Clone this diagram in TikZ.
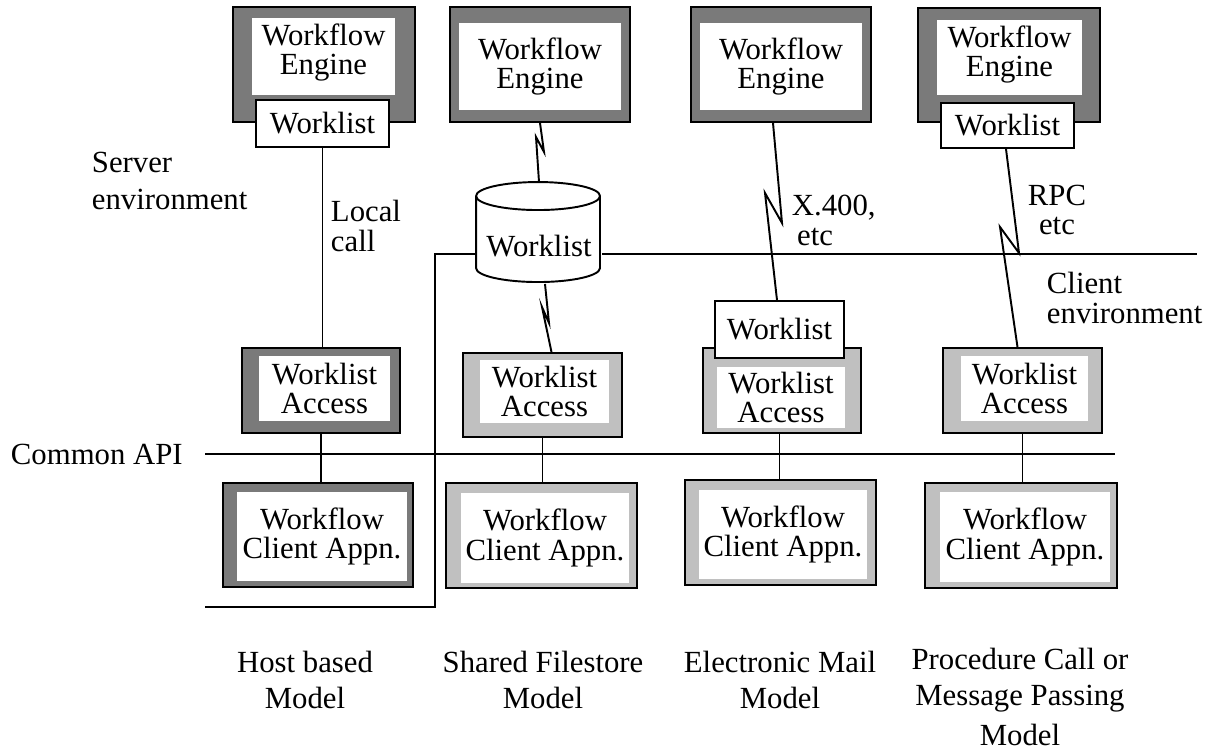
\documentclass[tikz,border=0pt]{standalone}
\usepackage{fontspec}
\setmainfont{Liberation Serif}
\usetikzlibrary{fit,calc}
\definecolor{framedk}{RGB}{122,122,122}
\definecolor{framelt}{RGB}{192,192,192}

\begin{document}
\begin{tikzpicture}[x=0.02cm, y=-0.02cm, line width=1.1pt,
    every node/.style={font=\fontsize{17.5}{17}\selectfont, inner sep=0pt, align=center},
    dkframe/.style={draw, fill=framedk},
    ltframe/.style={draw, fill=framelt},
    pane/.style={fill=white},
    wlbox/.style={draw, fill=white},
    lbl/.style={align=left, anchor=west},
    model/.style={font=\fontsize{17.5}{20.5}\selectfont}]
    \useasboundingbox (0,0) rectangle (1211,753);

    % environment boundaries
    \coordinate (api0) at (205,454);
    \coordinate (api1) at (1115,454);
    \draw (api0) -- (api1);
    \node[lbl] (capi) at (10,454) {Common API};

    % ---- Host based model
    \node[dkframe, fit={(233,7) (415,122)}] (eng1) {};
    \node[pane, fit={(252,18) (395,95)}] (eng1t) {};
    \node[yshift=0.08cm] at (eng1t) {Workflow\\Engine};
    \node[wlbox, fit={(256,100) (389,147)}] (wl1) {};
    \node at (wl1) {Worklist};
    \node[dkframe, fit={(242,348) (400,433)}] (wla1) {};
    \node[pane, fit={(259,356) (390,421)}] (wla1t) {};
    \node at (wla1t) {Worklist\\Access};
    \node[dkframe, fit={(223,483) (413,587)}] (cli1) {};
    \node[pane, fit={(237,492) (407,581)}] (cli1t) {};
    \node at (cli1t) {Workflow\\Client Appn.};
    \draw (wl1.south) -- (wl1.south |- wla1.north);
    \draw (wla1.south) -- (wla1.south |- cli1.north);
    \node[lbl] (srv) at (91,181) {Server\\[4pt]environment};
    \node[lbl] (loc) at (330,226) {Local\\call};

    % ---- Shared filestore model
    \node[dkframe, fit={(450,7) (630,122)}] (eng2) {};
    \node[pane, fit={(459,23) (621,110)}] (eng2t) {};
    \node at (eng2t) {Workflow\\Engine};
    \node[fit={(477,183) (601,283)}] (cyl) {};
    \draw[fill=white] (cyl.north west) ++(0,14) -- ++(0,72)
        arc[start angle=180, end angle=360, x radius=1.24cm, y radius=0.28cm]
        -- ++(0,-72) arc[start angle=0, end angle=180, x radius=1.24cm, y radius=0.28cm];
    \draw (cyl.north west) ++(0,14) arc[start angle=180, end angle=360, x radius=1.24cm, y radius=0.28cm];
    \node[yshift=-0.26cm] at (cyl) {Worklist};
    \node[ltframe, fit={(463,353) (622,437)}] (wla2) {};
    \node[pane, fit={(480,360) (609,423)}] (wla2t) {};
    \node at (wla2t) {Worklist\\Access};
    \node[ltframe, fit={(446,483) (637,588)}] (cli2) {};
    \node[pane, fit={(461,493) (629,583)}] (cli2t) {};
    \node at (cli2t) {Workflow\\Client Appn.};
    \draw (eng2.south) -- (544,152) -- (536,137) -- (cyl.north);
    \draw ([xshift=0.12cm]cyl.south) -- (549,323) -- (542,307) -- ([xshift=0.18cm]wla2.north);
    \draw (wla2.south) -- (wla2.south |- cli2.north);

    % ---- Electronic mail model
    \node[dkframe, fit={(691,7) (871,122)}] (eng3) {};
    \node[pane, fit={(700,23) (862,110)}] (eng3t) {};
    \node at (eng3t) {Workflow\\Engine};
    \node[ltframe, fit={(703,348) (861,433)}] (wla3) {};
    \node[pane, fit={(717,367) (845,428)}] (wla3t) {};
    \node at (wla3t) {Worklist\\Access};
    \node[wlbox, fit={(715,301) (844,358)}] (wl3) {};
    \node at (wl3) {Worklist};
    \node[ltframe, fit={(685,480) (876,585)}] (cli3) {};
    \node[pane, fit={(699,490) (867,579)}] (cli3t) {};
    \node at (cli3t) {Workflow\\Client Appn.};
    \draw ([xshift=-0.16cm]eng3.south) -- (782,223) -- (765,193) -- ([xshift=-0.05cm]wl3.north);
    \draw ([xshift=-0.05cm]wla3.south) -- ([xshift=-0.05cm]wla3.south |- cli3.north);
    \node[lbl] (x400) at (791,220) {X.400,\\\hspace{3pt}etc};

    % ---- Procedure call model
    \node[dkframe, fit={(918,8) (1100,122)}] (eng4) {};
    \node[pane, fit={(937,20) (1082,95)}] (eng4t) {};
    \node[yshift=0.06cm] at (eng4t) {Workflow\\Engine};
    \node[wlbox, fit={(941,103) (1074,148)}] (wl4) {};
    \node at (wl4) {Worklist};
    \node[ltframe, fit={(943,348) (1102,433)}] (wla4) {};
    \node[pane, fit={(961,356) (1088,421)}] (wla4t) {};
    \node at (wla4t) {Worklist\\Access};
    \node[ltframe, fit={(925,483) (1117,588)}] (cli4) {};
    \node[pane, fit={(940,492) (1110,582)}] (cli4t) {};
    \node at (cli4t) {Workflow\\Client Appn.};
    \draw ([xshift=-0.03cm]wl4.south) -- (1019,253) -- (1000,227) -- ([xshift=-0.1cm]wla4.north);
    \draw (wla4.south) -- (wla4.south |- cli4.north);
    \node (rpc) at (1057,210) {RPC\\etc};
    \node[lbl] (cenv) at (1046,298) {Client\\environment};

    % server / client boundary
    \coordinate (sep0) at (205,607);
    \coordinate (sep1) at (435,607);
    \coordinate (sep2) at (435,254);
    \coordinate (sep3) at (1197,254);
    \draw (sep0) -- (sep1) -- (sep2) -- (sep2 -| cyl.west);
    \draw (sep2 -| cyl.east) -- (sep3);

    % model names
    \node[model] (m1) at (305,680) {Host based\\Model};
    \node[model] (m2) at (543,680) {Shared Filestore\\Model};
    \node[model] (m3) at (780,680) {Electronic Mail\\Model};
    \node[model] (m4) at (1020,697) {Procedure Call or\\Message Passing\\[2pt]Model};
\end{tikzpicture}
\end{document}
